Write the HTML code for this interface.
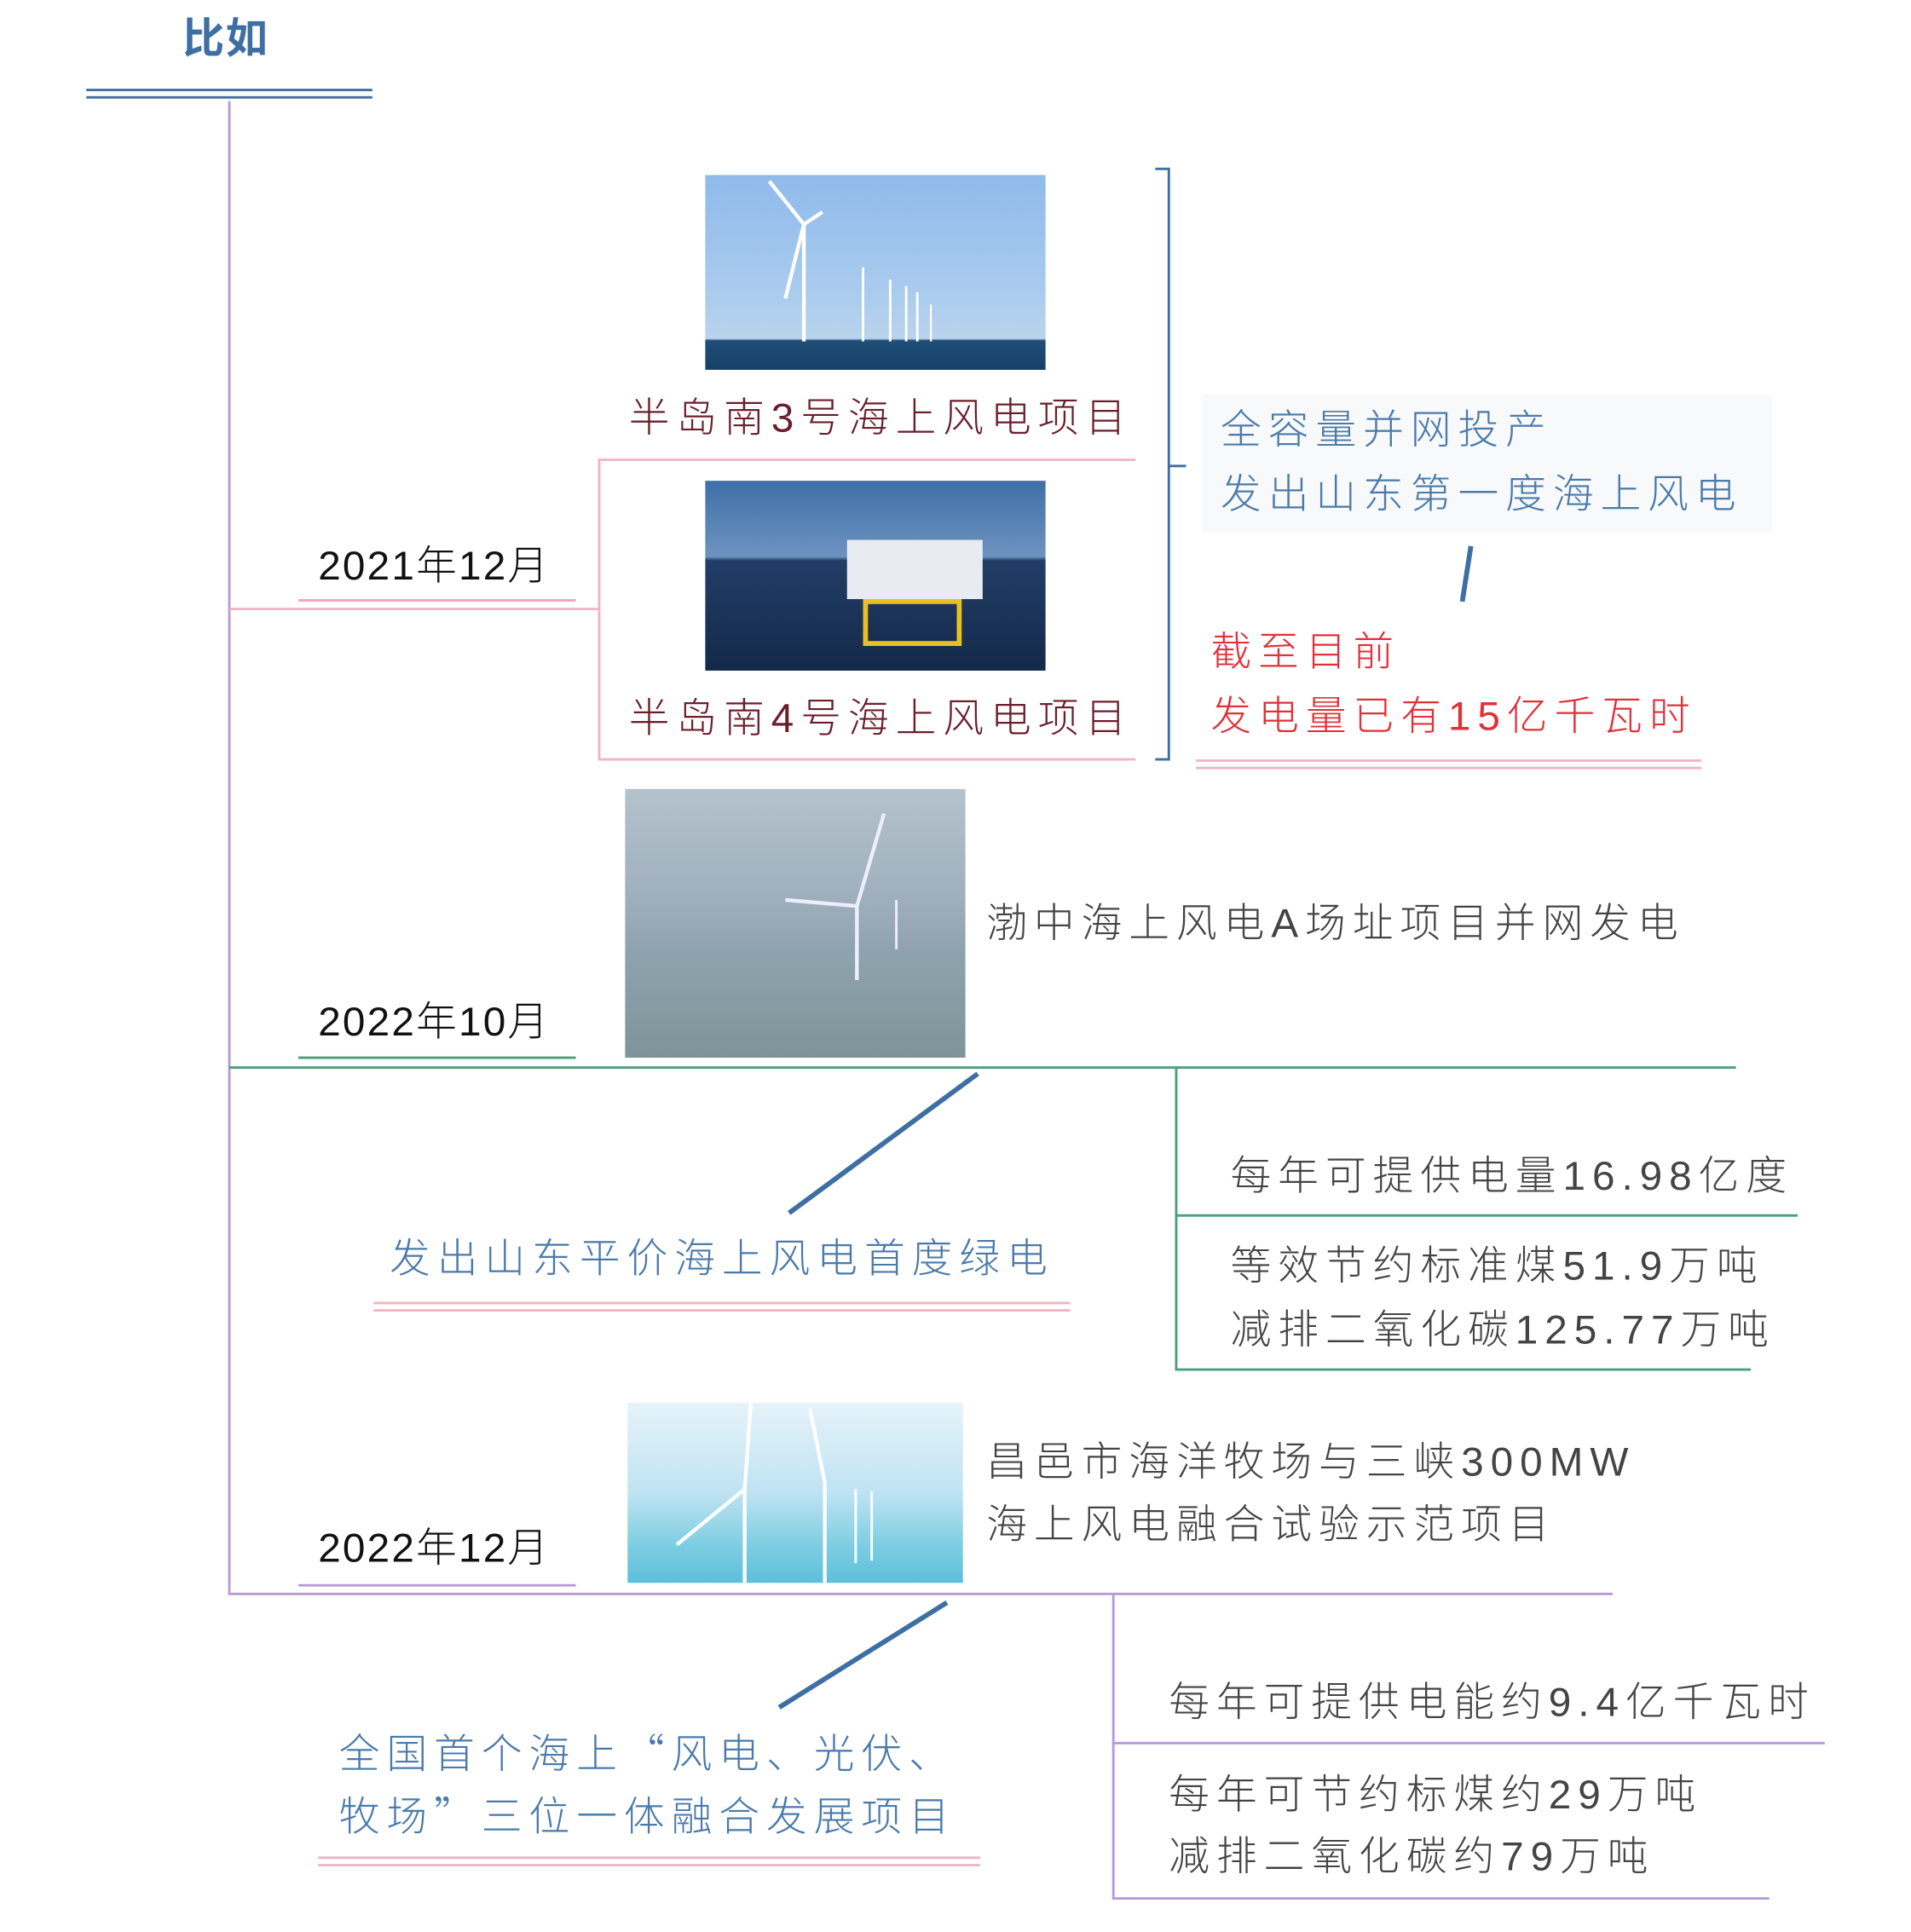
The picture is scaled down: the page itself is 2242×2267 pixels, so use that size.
<!DOCTYPE html>
<html><head><meta charset="utf-8"><style>
html,body{margin:0;padding:0;background:#fff;width:2242px;height:2267px;overflow:hidden}
#c{position:absolute;left:0;top:0;width:1550px;height:1567px;transform:scale(1.4465);transform-origin:0 0}
.t{position:absolute;font-family:"Liberation Sans","Noto Sans CJK SC",sans-serif;font-weight:300;font-size:33px;letter-spacing:5.5px;white-space:nowrap;line-height:1}
.d{letter-spacing:1.5px}
.q{font-family:"Noto Sans CJK SC",sans-serif}
.l{position:absolute}
.img{position:absolute;overflow:hidden}
</style></head><body><div id="c">
<div class="t" style="left:148px;top:15px;color:#3e6fa3;font-weight:700;font-size:34px;letter-spacing:1px">比如</div>
<div class="l" style="left:70px;top:72px;width:232px;height:2px;background:#3e6fa3"></div>
<div class="l" style="left:70px;top:78px;width:232px;height:2px;background:#3e6fa3"></div>
<div class="l" style="left:185px;top:82px;width:2px;height:1212px;background:#b89ad8"></div>

<div class="t d" style="left:258px;top:442px;color:#111">2021年12月</div>
<div class="l" style="left:242px;top:486px;width:225px;height:2px;background:#e9a9b8"></div>
<div class="l" style="left:186px;top:493px;width:300px;height:2px;background:#f0b5c3"></div>
<div class="l" style="left:485px;top:372px;width:2px;height:245px;background:#f0b5c3"></div>
<div class="l" style="left:485px;top:372px;width:436px;height:2px;background:#f0b5c3"></div>
<div class="l" style="left:485px;top:615px;width:436px;height:2px;background:#f0b5c3"></div>
<div class="img" style="left:572px;top:142px;width:276px;height:158px;background:linear-gradient(#8fbaea 0%,#aacbee 60%,#b9d4ec 84%,#1f4e78 85%,#173f66 100%)">
<svg width="276" height="158"><g stroke="#fff" stroke-width="3"><line x1="80" y1="40" x2="80" y2="135"/><line x1="80" y1="40" x2="52" y2="5"/><line x1="80" y1="40" x2="65" y2="100"/><line x1="80" y1="40" x2="95" y2="30"/><line x1="128" y1="75" x2="128" y2="135" stroke-width="2"/><line x1="150" y1="85" x2="150" y2="135" stroke-width="2"/><line x1="163" y1="90" x2="163" y2="135" stroke-width="2"/><line x1="172" y1="95" x2="172" y2="135" stroke-width="2"/><line x1="183" y1="105" x2="183" y2="135" stroke-width="1.5"/></g></svg></div>
<div class="t" style="left:510px;top:322px;color:#6a1e2c">半岛南3号海上风电项目</div>
<div class="img" style="left:572px;top:390px;width:276px;height:154px;background:linear-gradient(#3f6fa8 0%,#6d93c0 40%,#223d66 42%,#14294a 100%)">
<div style="position:absolute;left:115px;top:48px;width:110px;height:48px;background:#e8ecf2"></div>
<div style="position:absolute;left:128px;top:96px;width:80px;height:38px;border:4px solid #e8c020;box-sizing:border-box"></div></div>
<div class="t" style="left:510px;top:566px;color:#6a1e2c">半岛南4号海上风电项目</div>

<div class="l" style="left:947px;top:136px;width:2px;height:481px;background:#3e6fa3"></div>
<div class="l" style="left:937px;top:136px;width:11px;height:2px;background:#3e6fa3"></div>
<div class="l" style="left:937px;top:615px;width:11px;height:2px;background:#3e6fa3"></div>
<div class="l" style="left:948px;top:377px;width:14px;height:2px;background:#3e6fa3"></div>
<div class="l" style="left:975px;top:320px;width:463px;height:112px;background:#f8f9fa"></div>
<div class="t" style="left:990px;top:332px;color:#4a7aaa">全容量并网投产</div>
<div class="t" style="left:990px;top:384px;color:#4a7aaa">发出山东第一度海上风电</div>
<svg class="l" style="left:1170px;top:440px" width="40" height="52"><line x1="23" y1="3" x2="16" y2="48" stroke="#3e6fa3" stroke-width="4"/></svg>
<div class="t" style="left:982px;top:512px;color:#e03038">截至目前</div>
<div class="t" style="left:982px;top:564px;color:#e03038">发电量已有15亿千瓦时</div>
<div class="l" style="left:970px;top:616px;width:410px;height:2px;background:#f0b5c3"></div>
<div class="l" style="left:970px;top:622px;width:410px;height:2px;background:#f0b5c3"></div>

<div class="t d" style="left:258px;top:812px;color:#111">2022年10月</div>
<div class="l" style="left:242px;top:857px;width:225px;height:2px;background:#4aa07a"></div>
<div class="img" style="left:507px;top:640px;width:276px;height:218px;background:linear-gradient(#b4c2cc 0%,#9fb0bc 40%,#8fa3ae 60%,#7f9499 100%)">
<svg width="276" height="218"><g stroke="#eef" stroke-width="3"><line x1="188" y1="95" x2="188" y2="155"/><line x1="188" y1="95" x2="210" y2="20"/><line x1="188" y1="95" x2="130" y2="90"/><line x1="220" y1="90" x2="220" y2="130" stroke-width="2"/></g></svg></div>
<div class="t" style="left:800px;top:732px;color:#444">渤中海上风电A场址项目并网发电</div>
<div class="l" style="left:186px;top:865px;width:1222px;height:2px;background:#4aa07a"></div>
<div class="l" style="left:953px;top:866px;width:2px;height:246px;background:#4aa07a"></div>
<div class="l" style="left:953px;top:985px;width:505px;height:2px;background:#4aa07a"></div>
<div class="l" style="left:953px;top:1110px;width:467px;height:2px;background:#4aa07a"></div>
<div class="t" style="left:998px;top:937px;color:#444">每年可提供电量16.98亿度</div>
<div class="t" style="left:998px;top:1010px;color:#444">等效节约标准煤51.9万吨</div>
<div class="t" style="left:998px;top:1062px;color:#444">减排二氧化碳125.77万吨</div>
<svg class="l" style="left:630px;top:866px" width="170" height="125"><line x1="163" y1="5" x2="10" y2="118" stroke="#3e6fa3" stroke-width="4"/></svg>
<div class="t" style="left:316px;top:1004px;color:#4a7aaa">发出山东平价海上风电首度绿电</div>
<div class="l" style="left:303px;top:1056px;width:565px;height:2px;background:#f0b5c3"></div>
<div class="l" style="left:303px;top:1062px;width:565px;height:2px;background:#f0b5c3"></div>

<div class="t d" style="left:258px;top:1239px;color:#111">2022年12月</div>
<div class="l" style="left:242px;top:1285px;width:225px;height:2px;background:#b89ad8"></div>
<div class="img" style="left:509px;top:1138px;width:272px;height:146px;background:linear-gradient(#e6f3fa 0%,#bfe3f2 50%,#7ccde2 80%,#5cc0da 100%)">
<svg width="272" height="146"><g stroke="#fff" stroke-width="3"><line x1="95" y1="70" x2="95" y2="146"/><line x1="95" y1="70" x2="100" y2="0"/><line x1="95" y1="70" x2="40" y2="115"/><line x1="160" y1="65" x2="160" y2="146"/><line x1="160" y1="65" x2="148" y2="5"/><line x1="185" y1="70" x2="185" y2="130" stroke-width="2"/><line x1="198" y1="72" x2="198" y2="128" stroke-width="2"/></g></svg></div>
<div class="t" style="left:800px;top:1169px;color:#444">昌邑市海洋牧场与三峡300MW</div>
<div class="t" style="left:800px;top:1220px;color:#444">海上风电融合试验示范项目</div>
<div class="l" style="left:186px;top:1292px;width:1122px;height:2px;background:#b89ad8"></div>
<div class="l" style="left:902px;top:1293px;width:2px;height:248px;background:#b89ad8"></div>
<div class="l" style="left:902px;top:1413px;width:578px;height:2px;background:#b89ad8"></div>
<div class="l" style="left:902px;top:1539px;width:533px;height:2px;background:#b89ad8"></div>
<div class="t" style="left:948px;top:1364px;color:#444">每年可提供电能约9.4亿千瓦时</div>
<div class="t" style="left:948px;top:1439px;color:#444">每年可节约标煤约29万吨</div>
<div class="t" style="left:948px;top:1489px;color:#444">减排二氧化碳约79万吨</div>
<svg class="l" style="left:625px;top:1295px" width="150" height="95"><line x1="143" y1="5" x2="7" y2="90" stroke="#3e6fa3" stroke-width="4"/></svg>
<div class="t" style="left:275px;top:1404px;color:#4a7aaa">全国首个海上<span class="q">“</span>风电、光伏、</div>
<div class="t" style="left:275px;top:1455px;color:#4a7aaa">牧场<span class="q">”</span>三位一体融合发展项目</div>
<div class="l" style="left:258px;top:1506px;width:537px;height:2px;background:#f0b5c3"></div>
<div class="l" style="left:258px;top:1512px;width:537px;height:2px;background:#f0b5c3"></div>
</div></body></html>
